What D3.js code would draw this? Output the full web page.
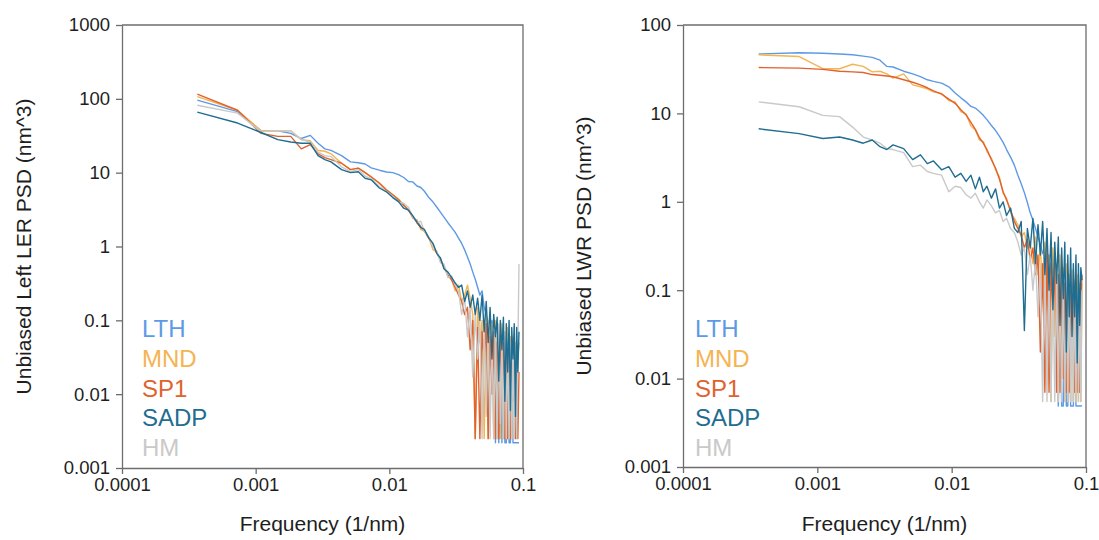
<!DOCTYPE html>
<html>
<head>
<meta charset="utf-8">
<script src="https://cdn.jsdelivr.net/npm/d3@7"></script>
<style>
  html, body { margin: 0; padding: 0; background: #fff; }
  svg text { font-family: "Liberation Sans", Arial, Helvetica, sans-serif; }
</style>
</head>
<body>
<div id="chart"></div>
<script>
// spatial frequency (1/nm), same sampling for every curve
var freq = [0.000366, 0.000732, 0.001098, 0.001464, 0.00183, 0.002196, 0.002562, 0.002928, 0.003294, 0.00366,
  0.004392, 0.005124, 0.005856, 0.006588, 0.00732,
  0.008418, 0.009516, 0.01061, 0.01171, 0.01281, 0.01391, 0.01501, 0.0161, 0.0172, 0.0183,
  0.01976, 0.02123, 0.02269, 0.02416, 0.02562, 0.02745, 0.02928,
  0.03111, 0.03294, 0.03477, 0.0366, 0.03843, 0.04026, 0.04209, 0.04392, 0.04575, 0.04758,
  0.04941, 0.05124, 0.05307, 0.0549, 0.05673, 0.05856, 0.06039, 0.06222, 0.06405, 0.06588,
  0.06771, 0.06954, 0.07137, 0.0732, 0.07503, 0.07686, 0.07869, 0.08052, 0.08235, 0.08418,
  0.08601, 0.08784, 0.08967, 0.0915, 0.09333];

var seriesNames = ["LTH", "MND", "SP1", "SADP", "HM"];

// left panel : unbiased left LER PSD (nm^3)
var lerLTH = [96, 67, 37, 37, 34, 29, 32, 25, 21, 20,
  17, 14, 13.6, 13.1, 11.6,
  10.8, 10.2, 10.0, 9.4, 8.6, 7.6, 7.5, 6.6, 6.3, 5.6,
  4.6, 4.0, 3.4, 2.9, 2.5, 2.1, 1.8,
  1.55, 1.3, 1.1, 0.9, 0.72, 0.58, 0.45, 0.36, 0.28, 0.22, 0.25, 0.15, 0.12, 0.09, 0.05, 0.1, 0.03,
  0.0022, 0.06, 0.0022, 0.05, 0.0022, 0.04, 0.0022, 0.0022, 0.05, 0.0022, 0.0022, 0.04, 0.0022,
  0.0022, 0.0022, 0.0022, 0.0022, 0.0022];
var lerMND = [107, 70, 37, 37, 37, 28, 27, 20, 19.5, 18,
  13.4, 11, 11.5, 10, 8.6,
  7.3, 5.9, 5.0, 4.4, 3.6, 3.2, 2.4, 2.3, 1.7, 1.6,
  1.3, 0.9, 0.85, 0.62, 0.55, 0.4, 0.36,
  0.25, 0.3, 0.18, 0.22, 0.3, 0.2, 0.12, 0.0025, 0.15, 0.05, 0.1, 0.0025, 0.12, 0.0025, 0.08, 0.09, 0.0025,
  0.1, 0.0025, 0.07, 0.0025, 0.09, 0.0025, 0.06, 0.004, 0.08, 0.0025, 0.06, 0.0025, 0.05,
  0.01, 0.04, 0.0025, 0.03, 0.05];
var lerSP1 = [116, 70, 34, 31, 31, 21, 24, 18, 16, 15,
  13.4, 11, 11.5, 10, 8.8,
  7.2, 5.8, 5.0, 4.3, 3.65, 3.1, 2.5, 2.2, 1.86, 1.64,
  1.3, 1.05, 0.81, 0.66, 0.53, 0.41, 0.35,
  0.28, 0.22, 0.18, 0.12, 0.15, 0.04, 0.1, 0.0025, 0.08, 0.0025, 0.07, 0.03, 0.09, 0.0025, 0.06, 0.01, 0.07,
  0.0025, 0.05, 0.0025, 0.06, 0.02, 0.05, 0.0025, 0.04, 0.0025, 0.03, 0.0025, 0.05, 0.008,
  0.04, 0.0025, 0.03, 0.0025, 0.02];
var lerSADP = [66, 47, 35, 28, 26, 25, 25, 17, 15, 14,
  11, 10, 10.3, 8.4, 8,
  6.2, 5.5, 4.6, 4.05, 3.3, 3.1, 2.6, 2.1, 1.8, 1.7,
  1.3, 1.1, 0.8, 0.7, 0.5, 0.45, 0.38,
  0.32, 0.28, 0.3, 0.18, 0.25, 0.15, 0.22, 0.12, 0.2, 0.1, 0.22, 0.07, 0.18, 0.05, 0.15, 0.03, 0.12,
  0.06, 0.11, 0.015, 0.1, 0.04, 0.11, 0.008, 0.09, 0.02, 0.1, 0.006, 0.08, 0.03,
  0.09, 0.005, 0.08, 0.02, 0.07];
var lerHM = [82, 64, 36, 37, 37, 28, 26, 19, 17, 16.5,
  12, 10.3, 11, 9, 8.3,
  6.5, 5.6, 4.8, 4.0, 3.85, 3.4, 2.5, 2.1, 2.2, 1.6,
  1.35, 1.0, 0.85, 0.6, 0.58, 0.38, 0.4,
  0.3, 0.25, 0.12, 0.2, 0.06, 0.15, 0.017, 0.12, 0.03, 0.1, 0.0025, 0.09, 0.005, 0.1, 0.0025, 0.08, 0.0025,
  0.07, 0.0025, 0.09, 0.004, 0.06, 0.0025, 0.07, 0.0025, 0.06, 0.0025, 0.05, 0.0025, 0.06,
  0.0025, 0.05, 0.0025, 0.04, 0.58];

// right panel : unbiased LWR PSD (nm^3)
var lwrLTH = [47, 48.5, 48, 47, 46, 44.5, 43, 40, 34, 33.5,
  30, 28, 26, 24, 23,
  22, 20, 17, 15, 13.5, 12, 11.5, 10.5, 9.5, 8.5,
  7.3, 6.4, 5.5, 4.7, 3.9, 3.2, 2.6,
  2.0, 1.6, 1.27, 0.98, 0.75, 0.62, 0.5, 0.4, 0.33, 0.26, 0.3, 0.2, 0.25, 0.15, 0.2, 0.1, 0.15,
  0.0049, 0.12, 0.0049, 0.0049, 0.1, 0.0049, 0.0049, 0.08, 0.0049, 0.0049, 0.0049, 0.06, 0.0049,
  0.0049, 0.0049, 0.0049, 0.0049, 0.0049];
var lwrMND = [46, 44, 32, 32, 36, 34, 29.5, 30, 28, 25,
  28, 21, 20, 19, 17.5,
  16.8, 14, 13.5, 10.5, 9.8, 7.2, 6.5, 5.0, 4.8, 3.7,
  3.1, 2.3, 1.9, 1.25, 1.1, 0.75, 0.65,
  0.55, 0.4, 0.45, 0.3, 0.35, 0.2, 0.4, 0.15, 0.3, 0.1, 0.35, 0.06, 0.25, 0.0055, 0.3, 0.03, 0.2,
  0.0055, 0.25, 0.015, 0.18, 0.0055, 0.2, 0.0055, 0.15, 0.0055, 0.17, 0.0055, 0.12, 0.0055,
  0.15, 0.0055, 0.1, 0.0055, 0.12];
var lwrSP1 = [33, 32.5, 31.5, 30, 29.5, 29, 27.5, 27, 26.5, 26,
  24, 22.5, 21, 19.5, 18,
  16.5, 14.5, 13, 11, 9.6, 7.9, 6.6, 5.3, 4.6, 3.9,
  3.0, 2.4, 1.8, 1.3, 1.05, 0.8, 0.6,
  0.5, 0.42, 0.3, 0.38, 0.22, 0.3, 0.15, 0.25, 0.02, 0.2, 0.007, 0.3, 0.007, 0.2, 0.05, 0.22, 0.007,
  0.15, 0.007, 0.18, 0.01, 0.12, 0.007, 0.15, 0.007, 0.1, 0.02, 0.12, 0.007, 0.09,
  0.007, 0.1, 0.007, 0.08, 0.15];
var lwrSADP = [6.7, 5.9, 5.2, 5.4, 5.0, 4.6, 5.0, 4.2, 3.9, 4.4,
  4.0, 3.0, 3.4, 2.7, 2.9,
  2.3, 2.5, 1.9, 2.1, 1.7, 2.0, 1.4, 1.9, 1.3, 1.5,
  1.1, 1.4, 0.85, 1.0, 0.7, 0.85, 0.5,
  0.45, 0.6, 0.035, 0.5, 0.3, 0.65, 0.2, 0.55, 0.25, 0.6, 0.15, 0.5, 0.1, 0.45, 0.06, 0.35, 0.12,
  0.4, 0.04, 0.3, 0.08, 0.35, 0.02, 0.25, 0.05, 0.3, 0.03, 0.2, 0.05, 0.25,
  0.015, 0.2, 0.04, 0.18, 0.13];
var lwrHM = [13.5, 11.9, 9.5, 9.2, 7.0, 5.4, 5.0, 4.6, 4.0, 3.9,
  3.6, 2.5, 2.6, 2.2, 2.1,
  2.0, 1.3, 1.5, 1.45, 1.2, 1.1, 1.25, 1.0, 0.85, 1.05,
  0.9, 0.75, 0.8, 0.6, 0.65, 0.5, 0.45,
  0.35, 0.25, 0.3, 0.15, 0.25, 0.1, 0.22, 0.05, 0.2, 0.0055, 0.18, 0.0055, 0.2, 0.0055, 0.15, 0.0055, 0.18,
  0.0055, 0.14, 0.0055, 0.12, 0.0055, 0.15, 0.0055, 0.12, 0.0055, 0.1, 0.0055, 0.13, 0.0055,
  0.1, 0.0055, 0.12, 0.0055, 0.1];

var xTicks = [0.0001, 0.001, 0.01, 0.1];
var xTickLabels = ["0.0001", "0.001", "0.01", "0.1"];
var lerYTicks = [0.001, 0.01, 0.1, 1, 10, 100, 1000];
var lerYTickLabels = ["0.001", "0.01", "0.1", "1", "10", "100", "1000"];
var lwrYTicks = [0.001, 0.01, 0.1, 1, 10, 100];
var lwrYTickLabels = ["0.001", "0.01", "0.1", "1", "10", "100"];

var colors = {LTH: "#5d9ae6", MND: "#f4b452", SP1: "#e0622e", SADP: "#1f6d91", HM: "#c9c9c9"};
// drawing order (later = on top)
var drawOrder = ["LTH", "MND", "SP1", "HM", "SADP"];

var svg = d3.select("#chart").append("svg")
    .attr("width", 1099)
    .attr("height", 540)
    .style("background", "#fff");

function drawPanel(p) {
  var width = p.right - p.left,
      height = p.bottom - p.top;

  var x = d3.scaleLog().domain([xTicks[0], xTicks[xTicks.length - 1]]).range([0, width]);
  var y = d3.scaleLog().domain([p.yTicks[0], p.yTicks[p.yTicks.length - 1]]).range([height, 0]);

  var g = svg.append("g").attr("transform", "translate(" + p.left + "," + p.top + ")");

  // frame (top + right)
  g.append("path")
    .attr("d", "M0,0H" + width + "V" + height)
    .attr("fill", "none")
    .attr("stroke", "#6d6d6d")
    .attr("stroke-width", 1.3);

  var line = d3.line()
    .x(function(d) { return x(d[0]); })
    .y(function(d) { return y(d[1]); });

  var lines = g.append("g");
  drawOrder.forEach(function(name) {
    var vals = p.data[name];
    var pts = freq.map(function(f, i) { return [f, vals[i]]; });
    lines.append("path")
      .datum(pts)
      .attr("d", line)
      .attr("fill", "none")
      .attr("stroke", colors[name])
      .attr("stroke-width", 1.4)
      .attr("stroke-linejoin", "round");
  });

  // axes
  var xAxis = g.append("g")
    .attr("transform", "translate(0," + height + ")")
    .call(d3.axisBottom(x).tickValues(xTicks)
      .tickFormat(function(d, i) { return xTickLabels[i]; })
      .tickSize(6).tickSizeOuter(0).tickPadding(4));
  var yAxis = g.append("g")
    .call(d3.axisLeft(y).tickValues(p.yTicks)
      .tickFormat(function(d, i) { return p.yTickLabels[i]; })
      .tickSize(6).tickSizeOuter(0).tickPadding(6));

  [xAxis, yAxis].forEach(function(a) {
    a.select(".domain").attr("stroke", "#6d6d6d").attr("stroke-width", 1.3);
    a.selectAll(".tick line").attr("stroke", "#6d6d6d").attr("stroke-width", 1.3);
    a.selectAll(".tick text")
      .attr("fill", "#1e1e1e")
      .style("font-size", "18.5px")
      .style("font-family", "'Liberation Sans', Arial, sans-serif");
  });

  // x-axis title
  svg.append("text")
    .attr("x", p.left + width / 2)
    .attr("y", 531)
    .attr("text-anchor", "middle")
    .attr("fill", "#1e1e1e")
    .style("font-size", "21px")
    .text("Frequency (1/nm)");

  // y-axis title
  svg.append("text")
    .attr("transform", "translate(" + p.yTitleX + "," + (p.top + height / 2) + ") rotate(-90)")
    .attr("text-anchor", "middle")
    .attr("fill", "#1e1e1e")
    .style("font-size", "21px")
    .text(p.yTitle);

  // legend
  seriesNames.forEach(function(name, i) {
    svg.append("text")
      .attr("x", p.legendX)
      .attr("y", 337 + i * 29.8)
      .attr("fill", colors[name])
      .style("font-size", "24px")
      .text(name);
  });
}

drawPanel({
  left: 122, right: 523, top: 25, bottom: 468,
  yTicks: lerYTicks, yTickLabels: lerYTickLabels,
  yTitle: "Unbiased Left LER PSD (nm^3)", yTitleX: 31,
  legendX: 142,
  data: {LTH: lerLTH, MND: lerMND, SP1: lerSP1, SADP: lerSADP, HM: lerHM}
});

drawPanel({
  left: 683, right: 1086, top: 25, bottom: 467,
  yTicks: lwrYTicks, yTickLabels: lwrYTickLabels,
  yTitle: "Unbiased LWR PSD (nm^3)", yTitleX: 591,
  legendX: 695,
  data: {LTH: lwrLTH, MND: lwrMND, SP1: lwrSP1, SADP: lwrSADP, HM: lwrHM}
});
</script>
</body>
</html>
